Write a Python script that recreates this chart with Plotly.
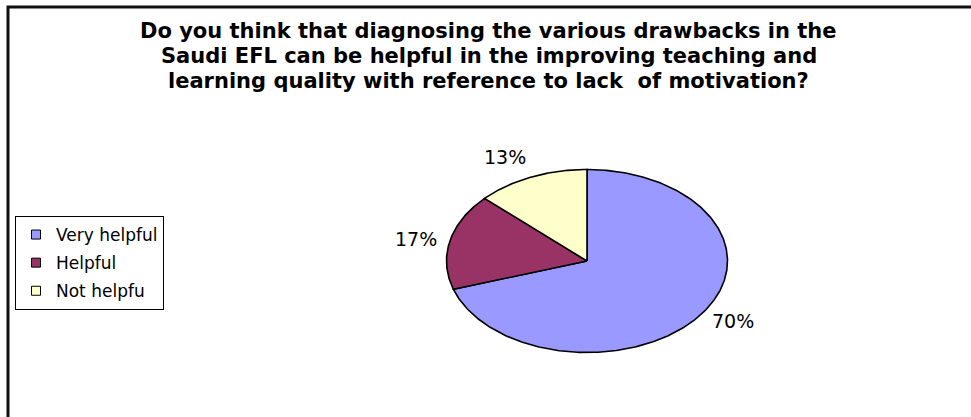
import math
import plotly.graph_objects as go

# ---- data ----
categories = ["Very helpful", "Helpful", "Not helpfu"]
values = [70, 17, 13]
colors = ["#9999FF", "#993366", "#FFFFCC"]
title_lines = ["Do you think that diagnosing the various drawbacks in the",
               "Saudi EFL can be helpful in the improving teaching and",
               "learning quality with reference to lack  of motivation?"]

W, H = 971, 417
# ellipse placement (pixels)
cx, cy, a, b = 587.0, 261.0, 140.5, 91.5
pad = 1.06

total = float(sum(values))
fig = go.Figure()

start = 90.0  # degrees, clockwise from 12 o'clock
annotations = []
for cat, v, col in zip(categories, values, colors):
    sweep = 360.0 * v / total
    n = max(8, int(sweep * 1.5))
    xs, ys = [0.0], [0.0]
    for i in range(n + 1):
        t = math.radians(start - sweep * i / n)
        xs.append(math.cos(t))
        ys.append(math.sin(t))
    xs.append(0.0)
    ys.append(0.0)
    fig.add_trace(go.Scatter(
        x=xs, y=ys, mode="lines", fill="toself", fillcolor=col,
        line=dict(color="black", width=1.6), showlegend=False,
        hoverinfo="text", text=f"{cat}: {v}%", name=cat,
    ))
    mid = math.radians(start - sweep / 2)
    c, s = math.cos(mid), math.sin(mid)
    xanchor = "left" if c > 0 else "right"
    if abs(s) < 0.7:
        yanchor, g = "middle", 11
    else:
        yanchor, g = ("top" if s < 0 else "bottom"), 8
    annotations.append(dict(
        x=c, y=s, xref="x", yref="y", text=f"{round(100 * v / total)}%",
        showarrow=False, xanchor=xanchor, yanchor=yanchor,
        xshift=g * c, yshift=g * s,
        font=dict(family="DejaVu Sans", size=19, color="black"),
    ))
    start -= sweep

# title lines
for i, line in enumerate(title_lines):
    annotations.append(dict(
        x=489 / W, y=1 - (31 + 25 * i) / H, xref="paper", yref="paper",
        text=f"<b>{line}</b>", showarrow=False, xanchor="center",
        yanchor="middle",
        font=dict(family="DejaVu Sans", size=21, color="black"),
    ))

# legend entries
for i, (cat, col) in enumerate(zip(categories, colors)):
    fig.add_trace(go.Scatter(
        x=[None], y=[None], mode="markers", name=cat, legendgroup=str(i),
        marker=dict(symbol="square", size=9, color=col,
                    line=dict(color="black", width=1)),
    ))

xd = [(cx - a * pad) / W, (cx + a * pad) / W]
yd = [1 - (cy + b * pad) / H, 1 - (cy - b * pad) / H]

fig.update_layout(
    width=W, height=H,
    margin=dict(l=0, r=0, t=0, b=0),
    paper_bgcolor="white", plot_bgcolor="white",
    font=dict(family="DejaVu Sans", color="black"),
    xaxis=dict(domain=xd, range=[-pad, pad], visible=False, fixedrange=True),
    yaxis=dict(domain=yd, range=[-pad, pad], visible=False, fixedrange=True),
    legend=dict(x=15 / W, y=1 - 216 / H, xanchor="left", yanchor="top",
                bgcolor="white", bordercolor="black", borderwidth=1,
                font=dict(family="DejaVu Sans", size=17, color="black"),
                traceorder="grouped", tracegroupgap=3),
    showlegend=True,
    annotations=annotations,
    shapes=[dict(type="rect", xref="paper", yref="paper",
                 x0=8 / W, y0=-0.1, x1=1.1, y1=1 - 7 / H,
                 line=dict(color="#111111", width=3))],
)

fig.write_html("out.html")
